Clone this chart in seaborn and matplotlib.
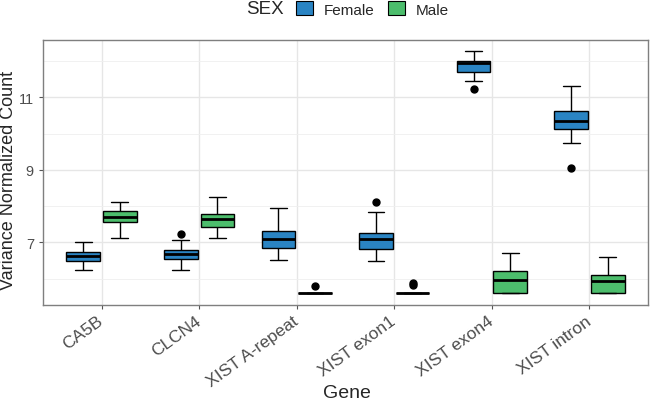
import matplotlib
matplotlib.use("Agg")
import matplotlib.pyplot as plt
from matplotlib.patches import Patch
import numpy as np
import pandas as pd
import seaborn as sns

# box statistics, per gene: (Female, Male)
genes = ["CA5B", "CLCN4", "XIST A-repeat", "XIST exon1", "XIST exon4", "XIST intron"]
sexes = ["Female", "Male"]

whislo = {"Female": [6.24, 6.24, 6.50, 6.49, 11.46, 9.74],
          "Male":   [7.12, 7.11, 5.59, 5.59, 5.59, 5.59]}
q1 = {"Female": [6.48, 6.54, 6.84, 6.82, 11.71, 10.12],
      "Male":   [7.55, 7.43, 5.59, 5.59, 5.59, 5.59]}
med = {"Female": [6.63, 6.67, 7.08, 7.10, 11.94, 10.35],
       "Male":   [7.71, 7.64, 5.59, 5.59, 5.95, 5.93]}
q3 = {"Female": [6.74, 6.79, 7.30, 7.25, 12.01, 10.63],
      "Male":   [7.85, 7.78, 5.59, 5.59, 6.20, 6.10]}
whishi = {"Female": [7.02, 7.06, 7.94, 7.84, 12.27, 11.30],
          "Male":   [8.12, 8.26, 5.59, 5.59, 6.71, 6.60]}
out_lo = {"Female": [None, None, None, None, 11.24, 9.05],
          "Male":   [None, None, None, None, None, None]}
out_hi = {"Female": [None, 7.22, None, 8.11, None, None],
          "Male":   [None, None, 5.80, [5.82, 5.88], None, None]}

# 9 sorted observations per group so that quartiles land on q1/med/q3
rows = []
for sex in sexes:
    for i, g in enumerate(genes):
        lo = out_lo[sex][i]
        hi = out_hi[sex][i]
        p0 = lo if lo is not None else whislo[sex][i]
        p1 = whislo[sex][i]
        if isinstance(hi, list):
            p7, p8 = hi
        elif hi is not None:
            p7, p8 = whishi[sex][i], hi
        else:
            p7 = p8 = whishi[sex][i]
        pts = [p0, p1, q1[sex][i], (q1[sex][i] + med[sex][i]) / 2, med[sex][i],
               (med[sex][i] + q3[sex][i]) / 2, q3[sex][i], p7, p8]
        for v in pts:
            rows.append({"Gene": g, "SEX": sex, "value": v})
df = pd.DataFrame(rows)

palette = {"Female": "#2a84c3", "Male": "#4cbd6c"}

sns.set_theme(style="white")
plt.rcParams["font.family"] = ["Liberation Sans", "DejaVu Sans"]

W, H = 650, 406
fig = plt.figure(figsize=(6.5, 4.06), dpi=100)
ax = fig.add_axes([43 / W, 1 - 306 / H, 605 / W, 265.3 / H])

sns.boxplot(data=df, x="Gene", y="value", hue="SEX", order=genes, hue_order=sexes,
            palette=palette, width=0.75, gap=0.08, linewidth=1.0, linecolor="black",
            saturation=1, whis=1.5, legend=False,
            medianprops={"linewidth": 2.0, "color": "black"},
            flierprops={"marker": "o", "markersize": 5, "markerfacecolor": "black",
                        "markeredgecolor": "black"},
            ax=ax, zorder=3)

ax.set_xlim(-0.6, 5.6)
ax.set_ylim(5.27, 12.59)
ax.set_yticks([7, 9, 11])
ax.set_yticks([6, 8, 10, 12], minor=True)
ax.grid(True, which="major", color="#e6e6e6", linewidth=1.0, zorder=0)
ax.grid(True, which="minor", axis="y", color="#efefef", linewidth=0.6, zorder=0)
ax.set_axisbelow(True)
for s in ax.spines.values():
    s.set_color("#7f7f7f")
    s.set_linewidth(1.0)

ax.tick_params(axis="both", which="major", length=3, color="#555555", width=0.8,
               labelcolor="#4d4d4d", bottom=True, left=True)
ax.tick_params(axis="y", which="major", labelsize=10.5, pad=3.5)
ax.tick_params(axis="x", which="major", labelsize=12.5, pad=7)
ax.tick_params(axis="y", which="minor", length=0)
ax.set_xticks(range(len(genes)))
ax.set_xticklabels(genes, rotation=36, ha="right", va="center", rotation_mode="anchor")
ax.set_xlabel("")
ax.set_ylabel("")
fig.text(347 / W, 1 - 394 / H, "Gene", fontsize=14, ha="center", va="center")
fig.text(9 / W, 1 - 180 / H, "Variance Normalized Count", fontsize=13,
         rotation=90, ha="center", va="center")

# legend on top, title to the left
handles = [Patch(facecolor=palette[s], edgecolor="black", linewidth=0.8) for s in sexes]
fig.text(284 / W, 1 - 10 / H, "SEX", fontsize=13.5, ha="right", va="center")
fig.legend(handles, sexes, loc="center left", bbox_to_anchor=(296 / W, 1 - 10 / H), ncol=2,
           frameon=False, fontsize=11, handlelength=1.1, handleheight=1.0,
           handletextpad=0.7, columnspacing=0.9, borderaxespad=0, borderpad=0)

fig.savefig("out.png", dpi=100)
